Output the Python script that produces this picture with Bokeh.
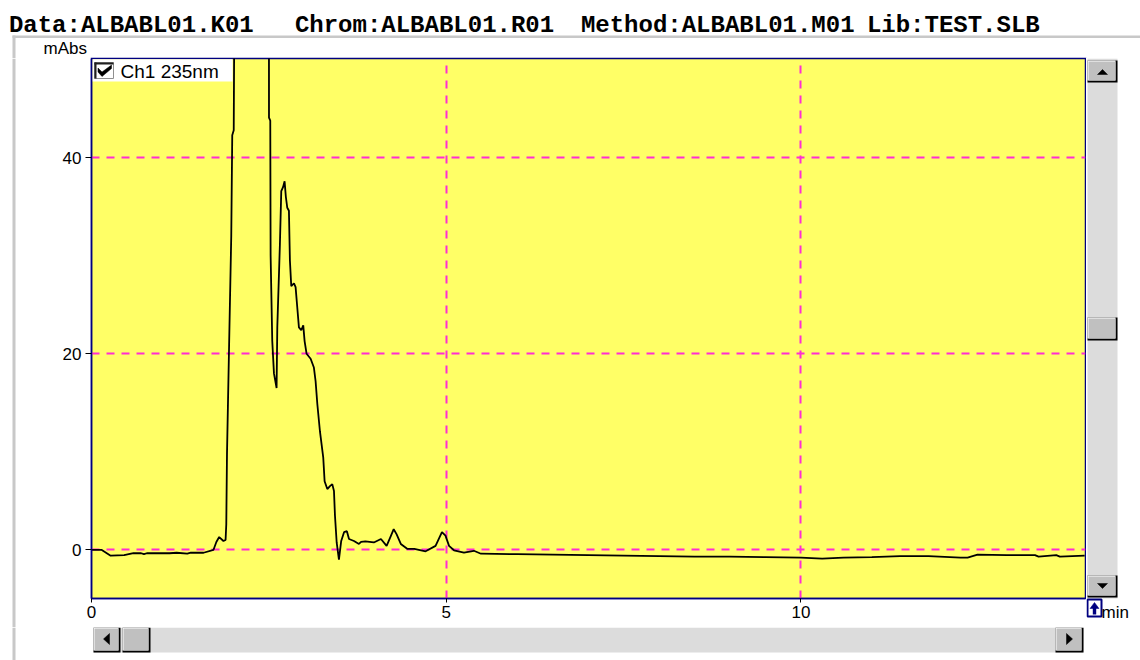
from bokeh.plotting import figure
from bokeh.models import Range1d, FixedTicker
from bokeh.layouts import column, row
from bokeh.core.properties import value
from bokeh.embed import file_html
from bokeh.resources import INLINE

# ---------------- data ----------------
time_min = [0.00, 0.14, 0.27, 0.46, 0.59, 0.70, 0.74, 0.78, 1.10, 1.20, 1.35, 1.40, 1.58,
            1.72, 1.76, 1.80, 1.86, 1.89, 1.90, 1.91, 1.94, 1.97, 1.984, 2.005, 2.017,
            2.10, 2.25, 2.40, 2.50, 2.502, 2.52, 2.525, 2.548, 2.572, 2.609, 2.619, 2.656,
            2.675, 2.70, 2.722, 2.74, 2.76, 2.783, 2.797, 2.816, 2.854, 2.877, 2.901, 2.924,
            2.957, 2.985, 3.004, 3.032, 3.089, 3.135, 3.159, 3.183, 3.220, 3.267, 3.286,
            3.324, 3.361, 3.394, 3.418, 3.432, 3.456, 3.488, 3.52, 3.56, 3.60, 3.63, 3.70,
            3.77, 3.80, 3.86, 3.98, 4.08, 4.16, 4.21, 4.26, 4.30, 4.36, 4.45, 4.55, 4.71,
            4.85, 4.94, 4.99, 5.04, 5.11, 5.25, 5.39, 5.49, 6.0, 6.5, 7.0, 7.5, 8.0, 8.5,
            9.0, 9.5, 10.0, 10.3, 10.6, 11.0, 11.4, 11.8, 12.25, 12.35, 12.49, 12.9, 13.3,
            13.35, 13.6, 13.65, 14.0]
absorbance_mabs = [0.0, 0.0, -0.6, -0.55, -0.35, -0.35, -0.45, -0.35, -0.35, -0.3, -0.4, -0.3, -0.3,
                   0.0, 0.8, 1.3, 0.9, 1.0, 2.6, 9.8, 21.0, 32.0, 42.3, 42.8, 60.0,
                   95.0, 120.0, 95.0, 70.0, 44.1, 43.8, 30.0, 21.3, 18.0, 16.5, 22.7, 31.2,
                   36.6, 37.0, 37.6, 36.0, 34.9, 34.6, 29.5, 26.9, 27.2, 26.8, 24.7, 22.7,
                   22.4, 22.9, 21.3, 20.0, 19.5, 18.6, 17.2, 14.9, 12.1, 9.4, 7.0,
                   6.2, 6.5, 6.7, 6.0, 3.5, 0.75, -1.0, 0.9, 1.8, 1.9, 1.1, 0.9,
                   0.6, 0.8, 0.85, 0.75, 1.1, 0.4, 1.25, 2.1, 1.6, 0.6, 0.1, 0.1, -0.15,
                   0.4, 1.8, 1.45, 0.4, -0.05, -0.3, -0.1, -0.4, -0.45, -0.5, -0.55, -0.6, -0.65, -0.7,
                   -0.7, -0.75, -0.8, -0.9, -0.8, -0.75, -0.65, -0.65, -0.8, -0.8, -0.5, -0.55, -0.55,
                   -0.7, -0.55, -0.7, -0.6]
x_ticks = [0, 5, 10]
y_ticks = [0, 20, 40]
title_parts = ["Data:ALBABL01.K01", "Chrom:ALBABL01.R01", "Method:ALBABL01.M01", "Lib:TEST.SLB"]
legend_text = "Ch1 235nm"
y_unit = "mAbs"
x_unit = "min"

# ---------------- page geometry (pixels) ----------------
W, H = 1140, 660
HDR = 58          # header strip height (title, frame line, unit label)
FTR = 627         # top of footer strip (horizontal scrollbar)
SIDE = 16         # left strip with the window frame line
L, R, T, B = 91, 1085, 58, 598   # plot frame on the page
PXM = 70.94            # px per minute
Y0, PYU = 549.3, 9.8   # page row of 0 mAbs, px per mAbs
GREY = "#C8C8C8"
TXT_SHIFT = 6          # compensation of the rendered text baseline


def pix_fig(w, h):
    f = figure(width=w, height=h, x_range=Range1d(0, w), y_range=Range1d(h, 0),
               output_backend="svg", toolbar_location=None, title=None,
               x_axis_location=None, y_axis_location=None,
               min_border_left=0, min_border_right=0, min_border_top=0, min_border_bottom=0)
    f.outline_line_color = None
    f.background_fill_color = "white"
    f.border_fill_color = "white"
    f.grid.visible = False
    f.frame_align = False
    return f


def rect(f, ox, oy, x0, y0, x1, y1, color, line=None, lw=1):
    f.quad(left=[x0 - ox], right=[x1 - ox], top=[y0 - oy], bottom=[y1 - oy],
           fill_color=color, line_color=line, line_width=lw)


def tri(f, ox, oy, pts, color):
    f.patch([a - ox for a, b in pts], [b - oy for a, b in pts],
            fill_color=color, line_color=color, line_width=0.5)


def txt(f, ox, oy, x, y, s, font="Liberation Sans", size="17px", style="normal"):
    f.text(x=[x - ox], y=[y - oy - TXT_SHIFT], text=[s], text_font=value(font),
           text_font_size=value(size), text_font_style=value(style),
           text_color="black", text_align="left", text_baseline="alphabetic")


def button(f, ox, oy, x0, y0, x1, y1):
    rect(f, ox, oy, x0, y0, x1, y1, "#000000")
    rect(f, ox, oy, x0, y0, x1 - 2, y1 - 2, "#FFFFFF")
    rect(f, ox, oy, x0 + 1, y0 + 1, x1 - 2, y1 - 2, "#C0C0C0")


# ---------------- header ----------------
hdr = pix_fig(W, HDR)
pitch = 14.3
col = 0
for part, gap in zip(title_parts, [3, 2, 1, 0]):
    txt(hdr, 0, 0, 8.4 + col * pitch, 30.5, part, font="Liberation Mono", size="24px", style="bold")
    col += len(part) + gap
rect(hdr, 0, 0, 12, 35, W, 37.5, GREY)
rect(hdr, 0, 0, 12, 35, 15, HDR, GREY)
txt(hdr, 0, 0, 43, 54, y_unit)
rect(hdr, 0, 0, L - 0.75, 57.2, R + 0.75, 58, "#000080")

# ---------------- left strip ----------------
MID_H = FTR - HDR
side = pix_fig(SIDE, MID_H)
rect(side, 0, HDR, 12, HDR, 15, FTR, GREY)

# ---------------- main plot ----------------
PW = R + 1 - SIDE
p = figure(width=PW, height=MID_H, title=None,
           x_range=Range1d(0, (R - L) / PXM),
           y_range=Range1d((Y0 - B) / PYU, (Y0 - T) / PYU),
           output_backend="svg", toolbar_location=None,
           min_border_left=L - SIDE, min_border_right=1,
           min_border_top=0, min_border_bottom=FTR - B)
p.frame_align = False
p.background_fill_color = "#FFFF66"
p.border_fill_color = "white"
p.outline_line_color = "#000080"
p.outline_line_width = 1.5

for ax, ticks in ((p.xaxis, x_ticks), (p.yaxis, y_ticks)):
    ax.ticker = FixedTicker(ticks=ticks)
    ax.axis_line_color = "#000080"
    ax.axis_line_width = 1.5
    ax.major_tick_line_color = "black"
    ax.minor_tick_line_color = None
    ax.major_tick_in = 0
    ax.major_label_text_font = "Liberation Sans"
    ax.major_label_text_font_size = "17px"
    ax.major_label_text_color = "black"
p.yaxis.major_tick_out = 6
p.yaxis.major_label_standoff = 4
p.xaxis.major_tick_out = 4
p.xaxis.major_label_standoff = 3

for g in (p.xgrid, p.ygrid):
    g.grid_line_color = "#FF2DD2"
    g.grid_line_width = 2
    g.grid_line_dash = "8 7"

p.line(time_min, absorbance_mabs, line_color="black", line_width=1.8)


def dx(px):
    return (px - L) / PXM


def dy(py):
    return (Y0 - py) / PYU


def prect(x0, y0, x1, y1, color, line=None):
    p.quad(left=[dx(x0)], right=[dx(x1)], top=[dy(y0)], bottom=[dy(y1)],
           fill_color=color, line_color=line, line_width=1)


# legend box with checkbox
prect(92, 58.8, 232, 81, "white")
prect(94, 62, 113, 78, "white", line="#909090")
prect(94, 62, 96, 78, "#202020")
prect(94, 62, 113, 64, "#202020")
chk = [(97.5, 67.5), (101.5, 71.5), (111, 64.5), (111, 68), (101.5, 76), (97.5, 71.5)]
p.patch([dx(a) for a, b in chk], [dy(b) for a, b in chk], fill_color="black", line_color="black",
        line_width=0.5)
p.text(x=[dx(120)], y=[dy(77 - TXT_SHIFT)], text=[legend_text], text_font=value("Liberation Sans"),
       text_font_size=value("19px"), text_color="black", text_baseline="alphabetic",
       text_align="left")

# ---------------- right strip (vertical scrollbar, unit) ----------------
RX = R + 1
side_r = pix_fig(W - RX, MID_H)
rect(side_r, RX, HDR, 1087, 58, 1117, 598, "#DCDCDC")
button(side_r, RX, HDR, 1087, 60, 1117, 82)
tri(side_r, RX, HDR, [(1097, 74), (1107, 74), (1102, 69)], "black")
button(side_r, RX, HDR, 1087, 317, 1117, 340)
button(side_r, RX, HDR, 1087, 575, 1117, 597)
tri(side_r, RX, HDR, [(1097, 583), (1107, 583), (1102, 588)], "black")
rect(side_r, RX, HDR, 1087, 599, 1101, 616, "white", line="#000080", lw=2)
tri(side_r, RX, HDR, [(1089.5, 608), (1094, 602), (1098.5, 608)], "#000080")
rect(side_r, RX, HDR, 1092.3, 607, 1095.7, 614, "#000080")
txt(side_r, RX, HDR, 1101, 618, x_unit)

# ---------------- footer (horizontal scrollbar) ----------------
ftr = pix_fig(W, H - FTR)
rect(ftr, 0, FTR, 12, FTR, 15, H, GREY)
rect(ftr, 0, FTR, 93, 627, 1083, 652, "#DCDCDC")
button(ftr, 0, FTR, 93, 627, 120, 652)
tri(ftr, 0, FTR, [(109, 633), (109, 644), (103, 638.5)], "black")
button(ftr, 0, FTR, 122, 627, 150, 652)
button(ftr, 0, FTR, 1055, 627, 1083, 652)
tri(ftr, 0, FTR, [(1066, 633), (1066, 644), (1072, 638.5)], "black")

layout = column(hdr, row(side, p, side_r), ftr)
open("out.html", "w").write(file_html(layout, INLINE))
